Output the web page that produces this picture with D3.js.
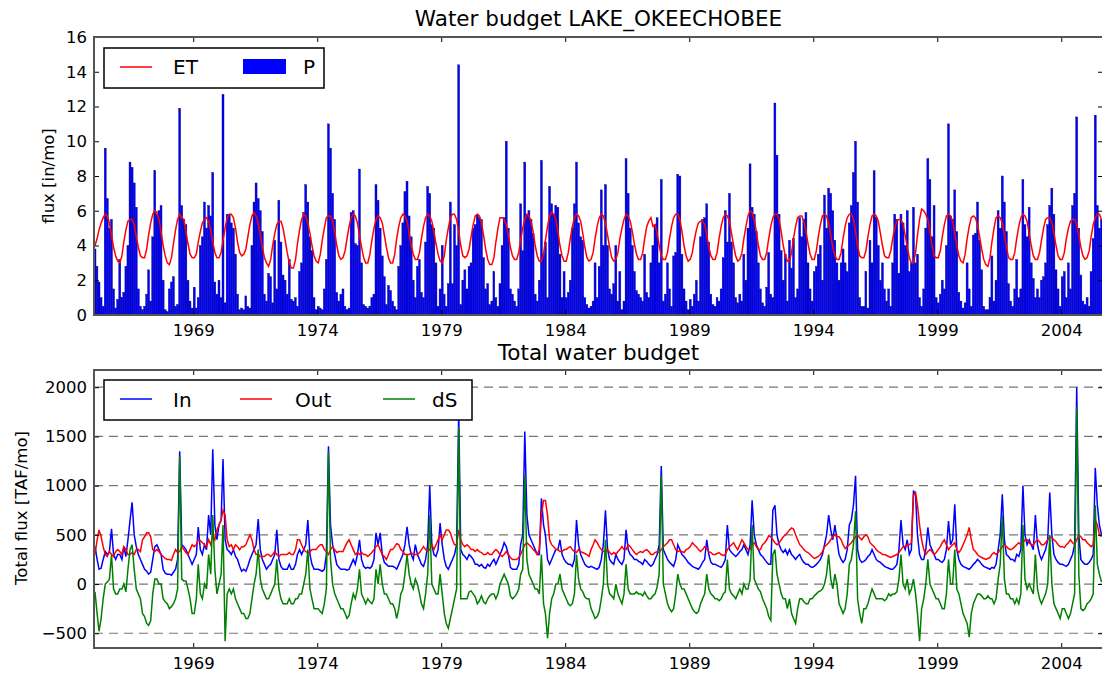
<!DOCTYPE html>
<html>
<head>
<meta charset="utf-8">
<script src="https://cdn.jsdelivr.net/npm/d3@7"></script>
<style>
body { margin: 0; background: #fff; }
text { font-family: "DejaVu Sans", sans-serif; }
</style>
</head>
<body>
<div id="chart"></div>
<script>
// monthly series, first value = Jan 1965, one row per year
var startYear = 1965;

var precip = [
3.8,2.8,1.9,1.0,0.5,9.6,6.7,5.0,5.5,1.5,0.4,0.9,
3.2,1.0,1.3,2.8,4.0,8.8,8.5,7.6,6.2,1.5,0.5,0.3,
0.5,1.2,2.6,0.8,4.5,8.3,5.8,6.0,6.3,2.0,0.3,0.2,
1.5,1.9,2.2,0.5,0.6,11.9,6.3,5.5,5.2,2.0,0.8,0.4,
1.6,0.4,1.0,4.0,4.5,6.5,5.0,6.3,5.7,8.2,1.9,1.2,
2.0,1.0,12.7,0.7,5.8,5.8,5.3,5.0,3.5,1.2,0.3,0.4,
0.3,1.1,0.5,0.4,4.0,6.5,7.6,6.7,6.0,4.8,1.2,0.8,
2.4,2.2,0.7,4.3,1.5,6.6,4.2,2.3,2.0,1.2,3.2,0.9,
0.8,1.0,0.5,2.5,3.0,5.9,7.5,6.5,4.5,3.7,1.0,0.3,
0.5,0.4,0.3,1.5,3.2,11.0,9.6,7.0,5.5,1.3,0.8,1.2,
1.5,0.5,0.3,0.4,5.9,6.0,4.1,4.0,8.4,3.0,0.6,0.5,
0.4,0.5,1.0,1.2,7.5,6.6,5.0,3.4,2.2,0.6,1.7,1.4,
0.8,0.5,0.3,2.8,4.0,5.3,7.1,7.7,5.7,4.5,2.0,1.0,
2.8,3.2,1.3,1.0,4.2,7.4,7.0,5.2,5.0,3.0,0.5,1.5,
4.0,1.2,0.5,1.8,6.5,1.8,5.2,4.0,14.4,0.6,2.0,2.6,
1.5,2.8,3.0,5.0,5.2,5.8,5.6,5.5,3.3,1.5,1.8,0.6,
0.8,2.5,1.0,0.5,1.8,4.0,5.6,10.0,5.0,1.5,1.2,0.8,
0.5,1.5,6.4,3.7,8.8,5.8,6.0,5.5,4.7,1.2,0.8,2.0,
8.9,3.5,4.2,1.0,7.4,6.4,5.8,6.3,6.2,3.5,1.0,2.5,
1.0,1.3,2.0,5.0,6.4,8.8,5.3,4.5,4.3,1.0,0.6,0.4,
0.5,0.8,3.0,1.0,2.8,7.2,4.0,7.5,4.0,1.5,1.2,1.8,
4.0,0.8,2.5,0.3,0.8,9.0,7.0,5.0,4.0,2.5,1.4,1.2,
1.0,0.8,3.5,1.3,1.0,3.0,4.0,5.2,5.6,3.0,7.8,0.8,
1.2,3.0,1.5,0.5,3.4,3.6,8.1,8.0,3.5,1.5,0.8,0.3,
0.9,0.5,1.2,2.0,0.8,4.5,5.5,5.6,6.4,4.2,1.2,0.6,
0.5,1.0,0.8,1.5,3.3,6.0,4.2,7.0,4.2,3.0,1.0,0.7,
1.2,0.8,3.5,2.0,5.0,8.7,6.2,5.8,4.8,3.0,1.5,0.7,
0.5,1.6,3.6,1.2,1.0,12.2,9.2,5.8,3.7,2.0,3.5,0.8,
4.3,2.7,4.4,1.0,1.5,5.6,4.5,5.5,5.9,3.0,1.5,0.8,
2.5,2.8,3.5,4.0,2.0,6.9,5.0,7.3,7.0,6.0,4.3,3.0,
2.0,3.0,3.8,3.0,2.5,5.3,6.3,8.2,10.0,6.5,1.0,0.5,
0.5,2.5,0.4,4.3,3.0,8.3,5.6,4.0,2.0,3.0,1.5,0.8,
1.5,0.5,3.0,5.8,5.5,2.4,5.8,5.3,4.0,6.0,2.5,3.0,
6.2,3.0,3.5,1.0,0.5,1.5,5.0,9.0,7.8,4.5,6.3,1.0,
0.7,1.2,2.0,1.5,4.0,11.0,5.7,5.5,7.2,4.8,1.3,0.8,
0.4,0.7,3.0,1.5,0.5,4.6,4.7,6.5,4.3,2.6,0.5,0.3,
0.3,1.0,3.4,0.8,2.0,6.0,5.0,8.0,6.5,4.8,1.8,0.8,
0.5,1.5,3.2,1.0,1.5,7.8,5.2,4.5,6.2,3.0,2.1,1.0,
1.5,1.0,2.0,2.2,3.0,5.2,6.3,7.3,5.8,2.6,1.5,0.5,
2.2,2.5,1.0,3.0,1.5,6.3,7.0,11.4,5.0,2.3,0.8,0.6,
1.0,0.5,2.5,4.4,11.5,6.3,5.0,5.5
];

var et = [
4.0,4.4,4.9,5.3,5.6,5.8,5.7,5.3,4.6,3.9,3.4,3.1,
3.0,3.4,4.2,4.9,5.4,5.5,5.5,5.2,4.5,3.9,3.4,3.3,
3.3,3.8,4.6,5.3,5.8,6.0,5.9,5.5,4.8,4.0,3.4,3.0,
2.9,3.3,4.1,4.9,5.5,5.8,5.6,5.5,4.8,4.1,3.5,3.3,
3.3,3.5,4.2,4.8,5.3,5.5,5.6,5.4,4.9,4.2,3.6,3.3,
3.3,3.6,4.3,5.0,5.6,5.8,5.8,5.6,5.0,4.2,3.6,3.4,
3.5,3.8,4.5,5.2,5.7,5.9,5.7,5.3,4.6,3.9,3.3,3.0,
2.8,3.2,4.0,4.7,5.2,5.4,5.4,5.0,4.3,3.6,3.0,2.7,
2.7,3.2,4.1,4.9,5.5,5.8,5.7,5.3,4.7,4.0,3.4,3.1,
3.0,3.5,4.3,5.0,5.6,5.7,5.7,5.4,4.8,4.0,3.4,3.2,
3.3,3.7,4.4,5.1,5.6,5.8,5.7,5.3,4.6,3.9,3.3,3.0,
3.0,3.5,4.3,5.0,5.5,5.7,5.6,5.3,4.6,3.9,3.3,3.0,
3.0,3.5,4.4,5.1,5.6,5.8,5.7,5.4,4.7,4.0,3.5,3.2,
3.2,3.6,4.4,5.1,5.6,5.8,5.7,5.4,4.8,4.1,3.5,3.1,
3.0,3.4,4.3,5.0,5.6,5.8,5.8,5.5,4.8,4.0,3.4,3.3,
3.4,3.8,4.5,5.2,5.7,5.8,5.7,5.3,4.6,3.8,3.2,2.9,
2.9,3.3,4.2,5.0,5.6,5.6,5.5,5.2,4.6,3.9,3.4,3.2,
3.2,3.6,4.3,5.0,5.5,5.8,5.7,5.4,4.8,4.0,3.4,3.1,
3.1,3.5,4.3,5.1,5.7,5.9,5.8,5.5,4.8,4.0,3.4,3.1,
3.1,3.6,4.4,5.1,5.6,5.8,5.7,5.4,4.7,3.9,3.3,3.1,
3.2,3.6,4.4,5.1,5.6,5.8,5.7,5.3,4.6,3.9,3.3,3.1,
3.2,3.6,4.4,5.0,5.5,5.8,5.7,5.4,4.8,4.1,3.5,3.2,
3.2,3.6,4.4,5.1,5.4,5.6,5.1,5.2,4.7,4.0,3.4,3.2,
3.2,3.6,4.4,5.1,5.6,5.8,5.8,5.5,4.8,4.0,3.4,3.1,
3.2,3.6,4.3,4.9,5.3,5.4,5.4,5.2,4.6,3.9,3.4,3.2,
3.2,3.6,4.4,5.1,5.6,5.8,5.7,5.4,4.7,4.0,3.4,3.1,
3.2,3.6,4.4,5.1,5.7,6.0,5.9,5.5,4.8,4.0,3.4,3.2,
3.2,3.6,4.4,5.1,5.6,5.8,5.8,5.5,4.8,4.0,3.4,3.1,
3.1,3.6,4.4,5.1,5.6,5.7,5.7,5.4,4.8,4.1,3.5,3.2,
3.2,3.7,4.5,5.2,5.7,5.8,5.7,5.3,4.6,3.9,3.4,3.2,
3.2,3.6,4.4,5.1,5.6,5.8,5.8,5.5,4.8,4.0,3.4,3.3,
3.3,3.7,4.5,5.2,5.7,5.8,5.7,5.4,4.7,4.0,3.4,3.3,
3.3,3.7,4.4,5.0,5.4,5.5,5.5,5.2,4.6,3.9,3.3,3.0,
3.0,3.6,4.6,5.5,6.1,6.0,5.8,5.5,4.8,4.0,3.4,3.3,
3.3,3.7,4.5,5.2,5.7,5.8,5.7,5.4,4.7,4.0,3.4,3.1,
3.0,3.5,4.4,5.1,5.6,5.7,5.6,5.2,4.5,3.8,3.2,2.9,
2.8,3.3,4.2,5.0,5.6,5.7,5.6,5.3,4.6,3.9,3.3,3.2,
3.2,3.6,4.4,5.1,5.6,5.8,5.7,5.4,4.7,4.0,3.4,3.2,
3.2,3.6,4.3,5.0,5.5,5.6,5.6,5.3,4.7,4.0,3.4,3.2,
3.2,3.6,4.4,5.0,5.4,5.5,5.5,5.2,4.6,3.9,3.4,3.2,
3.3,3.7,4.5,5.2,5.6,5.8,5.8,5.5
];

var inflow = [
380,250,150,160,250,330,300,330,560,300,250,300,
300,250,380,280,450,650,830,500,380,300,250,200,
150,130,100,120,250,380,400,350,300,150,110,100,
100,90,120,150,250,1350,400,380,350,300,250,200,
250,300,580,350,300,400,350,700,500,1370,600,450,
600,650,1270,450,350,330,300,350,280,250,180,130,
150,130,180,250,300,350,400,660,350,250,200,150,
180,200,250,300,550,250,180,150,150,150,200,150,
150,200,300,350,300,350,400,650,300,200,150,150,
150,140,130,150,300,1400,600,400,300,200,170,150,
150,150,140,150,200,250,200,300,450,250,180,160,
170,160,180,250,520,400,520,300,220,200,180,180,
180,170,150,200,250,300,400,580,400,300,250,400,
300,250,200,180,250,400,1000,400,300,280,350,620,
400,250,180,150,200,250,300,400,1750,350,300,280,
250,300,280,250,200,200,180,200,170,160,200,180,
220,250,200,250,300,350,420,380,300,170,150,150,
150,200,400,500,1550,700,500,450,400,350,300,300,
870,600,500,250,200,250,300,350,350,450,300,250,
220,200,200,180,250,650,400,300,250,200,180,170,
180,170,160,150,170,250,400,750,350,250,220,200,
300,250,220,200,250,550,350,300,280,250,250,230,
220,200,250,230,200,180,200,250,300,400,1200,350,
300,250,220,200,180,250,400,350,300,280,250,220,
200,180,170,160,150,180,220,250,450,300,220,200,
200,190,180,170,200,250,600,350,320,300,280,300,
330,350,400,350,300,400,850,500,400,350,300,280,
250,220,200,200,750,800,500,400,350,320,350,300,
350,300,280,250,280,300,250,220,200,200,180,170,
180,200,220,250,300,400,500,700,550,450,600,450,
300,250,220,250,350,600,650,800,1100,350,250,220,
230,250,280,300,350,300,250,230,220,200,180,170,
160,150,150,170,200,350,650,400,350,450,300,350,
950,900,500,300,250,250,350,575,400,350,300,250,
250,230,220,250,350,640,400,450,810,350,250,200,
180,170,160,150,170,200,220,250,230,200,180,170,
160,150,170,160,200,350,500,913,450,300,280,250,
250,230,300,280,350,1000,500,400,450,400,350,700,
400,300,250,300,350,450,930,500,300,250,220,200,
200,190,180,200,250,300,400,2000,500,250,220,200,
200,220,250,300,1180,800,600,500
];

var outflow = [
300,450,550,480,380,300,280,330,300,280,330,350,
330,300,380,350,300,300,320,300,350,350,330,450,
480,520,520,480,350,330,350,330,300,280,260,250,
250,240,300,350,320,330,380,350,320,300,350,400,
380,400,450,440,420,400,380,450,400,500,450,550,
600,650,750,700,450,380,400,350,400,380,350,380,
380,400,450,500,450,350,300,300,280,280,280,300,
300,280,300,330,300,280,300,300,300,300,320,300,
300,350,450,450,400,350,330,320,330,350,350,350,
380,400,400,350,330,300,350,380,350,320,330,330,
330,380,420,450,400,350,300,320,300,320,300,300,
280,300,320,350,380,400,350,300,280,250,300,350,
350,380,410,400,350,330,300,300,300,320,300,300,
300,320,350,380,350,330,350,400,350,400,450,500,
450,500,550,550,520,450,400,400,550,450,400,380,
400,380,350,350,330,350,330,320,300,300,320,300,
300,330,350,330,300,280,300,330,300,270,250,250,
250,270,300,350,400,420,400,380,350,330,300,350,
700,850,850,700,450,400,380,350,350,330,330,350,
350,370,380,350,330,320,350,330,320,310,300,280,
350,400,450,420,380,350,330,330,350,320,300,320,
300,330,350,380,350,350,400,380,350,320,300,320,
330,320,340,350,330,300,300,320,330,320,350,380,
400,420,450,450,400,350,330,340,330,320,350,360,
380,420,400,380,350,330,350,380,360,330,320,300,
300,310,320,300,290,300,350,380,400,420,380,350,
400,450,420,380,350,350,400,420,380,350,350,400,
420,450,490,480,450,420,400,420,450,480,500,520,
550,570,560,500,450,400,380,350,330,320,300,280,
260,270,280,300,330,380,400,420,450,480,500,480,
480,450,400,360,380,400,420,450,480,500,470,450,
480,500,480,420,400,380,350,330,320,300,300,290,
280,270,280,290,300,320,350,380,380,400,400,420,
900,930,800,600,450,350,300,330,350,330,300,320,
350,380,420,450,400,350,380,400,420,350,320,350,
400,450,500,575,450,350,330,300,280,270,260,250,
260,270,300,320,300,320,350,380,400,380,360,350,
360,380,400,420,400,420,450,450,420,400,400,430,
450,430,400,400,420,450,480,470,450,430,400,380,
380,370,400,420,450,420,400,450,500,480,450,450,
420,400,380,400,650,600,500,480
];

var dStor = [
-80,-300,-480,-350,-150,0,20,50,300,-50,-100,-100,
-50,-50,0,-80,150,350,400,150,-50,-100,-150,-300,
-330,-400,-420,-370,-100,50,50,0,0,-150,-180,-200,
-250,-230,-200,-150,-50,1300,50,30,30,-50,-150,-300,
-300,-150,200,-100,-150,0,-50,300,100,700,150,-100,
0,100,600,-580,-100,-50,-100,-50,-150,-200,-250,-300,
-300,-350,-350,-300,-150,0,100,350,50,-50,-100,-150,
-150,-100,-50,0,250,-50,-150,-200,-200,-200,-150,-200,
-200,-150,-150,-100,-100,0,100,350,-50,-150,-250,-250,
-250,-280,-300,-200,-50,1350,250,0,-100,-150,-200,-250,
-250,-300,-350,-320,-200,-100,-150,-50,150,-100,-150,-200,
-150,-180,-200,-150,150,0,200,0,-100,-100,-150,-200,
-200,-250,-350,-250,-100,-50,100,300,100,0,-50,50,
0,-100,-200,-250,-100,100,700,0,-50,-100,-100,100,
-100,-300,-400,-450,-350,-250,-150,-50,1600,-150,-150,-150,
-150,-80,-70,-100,-130,-200,-170,-120,-180,-200,-150,-120,
-100,-100,-150,-100,0,50,100,50,0,-120,-150,-130,
-100,-50,100,150,1100,250,100,50,0,-50,-50,-100,
300,-200,-300,-550,-300,-150,-100,0,0,100,-50,-100,
-150,-200,-220,-200,-100,300,50,-50,-80,-130,-150,-150,
-250,-300,-350,-330,-280,-150,0,450,0,-100,-120,-150,
0,-100,-150,-200,-100,200,-50,-100,-100,-100,-80,-100,
-100,-120,-80,-120,-150,-150,-120,-100,-30,100,1100,0,
-100,-200,-250,-280,-250,-100,100,0,-50,-50,-100,-150,
-200,-250,-280,-300,-280,-200,-150,-100,100,-50,-100,-120,
-150,-150,-170,-150,-100,-80,250,-50,-100,-120,-150,-100,
-50,-100,0,-50,-50,50,600,50,0,-50,-80,-150,
-200,-250,-330,-370,300,350,100,0,-100,-150,-150,-250,
-150,-300,-350,-400,-250,-150,-150,-180,-200,-200,-150,-150,
-120,-100,-80,-70,-50,0,100,300,50,-50,100,0,
-200,-250,-300,-250,-100,200,250,400,740,-150,-300,-400,
-250,-250,-200,-120,-50,-100,-150,-150,-150,-150,-170,-150,
-100,-120,-100,-100,-80,50,300,0,-50,50,-100,-50,
50,-100,-300,-580,-250,-150,0,250,0,-50,-100,-150,
-150,-200,-250,-250,-100,250,0,0,350,-50,-100,-200,
-300,-350,-400,-540,-300,-200,-150,-100,-100,-120,-150,-150,
-120,-150,-150,-200,-150,50,200,700,50,-100,-100,-150,
-150,-200,-150,-200,-100,600,50,-50,0,-50,-100,300,
-50,-150,-200,-150,-100,0,500,0,-200,-250,-300,-350,
-250,-250,-300,-350,-300,-200,-100,1800,100,-250,-270,-250,
-200,-180,-150,-100,800,200,100,20
];

var topTicks = [0, 2, 4, 6, 8, 10, 12, 14, 16];
var botTicks = [-500, 0, 500, 1000, 1500, 2000];
var yearTicks = [1969, 1974, 1979, 1984, 1989, 1994, 1999, 2004];

// layout
var width = 1102, height = 673;
var plotLeft = 94, plotRight = 1103;
var topPanel = {top: 37, bottom: 315};
var botPanel = {top: 370, bottom: 648};

var svg = d3.select("#chart").append("svg")
    .attr("width", width)
    .attr("height", height);

var x = d3.scaleTime()
    .domain([new Date(1965, 0, 1), new Date(2005, 8, 7)])
    .range([plotLeft, plotRight]);

var yTop = d3.scaleLinear().domain([0, 16]).range([topPanel.bottom, topPanel.top]);
var yBot = d3.scaleLinear().domain([-650, 2175]).range([botPanel.bottom, botPanel.top]);

function monthStart(i) { return new Date(startYear, i, 1); }
function monthMid(i) { return new Date(startYear, i, 16); }

var defs = svg.append("defs");
[["clipTop", topPanel], ["clipBot", botPanel]].forEach(function(c) {
    defs.append("clipPath").attr("id", c[0]).append("rect")
        .attr("x", plotLeft).attr("y", c[1].top)
        .attr("width", plotRight - plotLeft)
        .attr("height", c[1].bottom - c[1].top);
});

// ---------- top panel ----------
var gTop = svg.append("g").attr("clip-path", "url(#clipTop)");

gTop.selectAll("rect.p")
    .data(precip)
    .enter()
    .append("rect")
    .attr("class", "p")
    .attr("x", function(d, i) { return x(monthStart(i)); })
    .attr("width", function(d, i) { return (x(monthStart(i + 1)) - x(monthStart(i))) * 0.95; })
    .attr("y", function(d) { return yTop(d); })
    .attr("height", function(d) { return yTop(0) - yTop(d); })
    .style("fill", "#0000ff")
    .style("stroke", "#00007a")
    .style("stroke-width", 0.4);

gTop.append("path")
    .datum(et)
    .attr("d", d3.line()
        .x(function(d, i) { return x(monthMid(i)); })
        .y(function(d) { return yTop(d); }))
    .style("fill", "none")
    .style("stroke", "#ff0000")
    .style("stroke-width", 1.5);

// ---------- bottom panel ----------
var gBot = svg.append("g");

gBot.selectAll("line.grid")
    .data(botTicks)
    .enter()
    .append("line")
    .attr("class", "grid")
    .attr("x1", plotLeft).attr("x2", plotRight)
    .attr("y1", function(d) { return yBot(d); })
    .attr("y2", function(d) { return yBot(d); })
    .style("stroke", "#777")
    .style("stroke-width", 1.2)
    .style("stroke-dasharray", "9,6");

var lineBot = d3.line()
    .x(function(d, i) { return x(monthMid(i)); })
    .y(function(d) { return yBot(d); });

var series = [
    {name: "In", values: inflow, color: "#0000ff"},
    {name: "Out", values: outflow, color: "#ff0000"},
    {name: "dS", values: dStor, color: "#008000"}
];

gBot.append("g").attr("clip-path", "url(#clipBot)")
    .selectAll("path")
    .data(series)
    .enter()
    .append("path")
    .attr("d", function(s) { return lineBot(s.values); })
    .style("fill", "none")
    .style("stroke", function(s) { return s.color; })
    .style("stroke-width", 1.5);

// ---------- axes, ticks, frames ----------
var tickDates = yearTicks.map(function(y) { return new Date(y, 0, 1); });

function drawAxes(panel, yScale, ticks) {
    var fmt = d3.timeFormat("%Y");
    var xb = svg.append("g")
        .attr("transform", "translate(0," + panel.bottom + ")")
        .call(d3.axisBottom(x).tickValues(tickDates).tickFormat(fmt)
            .tickSize(-5).tickSizeOuter(0).tickPadding(9));
    var xt = svg.append("g")
        .attr("transform", "translate(0," + panel.top + ")")
        .call(d3.axisTop(x).tickValues(tickDates).tickFormat("")
            .tickSize(-5).tickSizeOuter(0));
    var yl = svg.append("g")
        .attr("transform", "translate(" + plotLeft + ",0)")
        .call(d3.axisLeft(yScale).tickValues(ticks).tickFormat(d3.format("d"))
            .tickSize(-5).tickSizeOuter(0).tickPadding(7));
    var yr = svg.append("g")
        .attr("transform", "translate(" + plotRight + ",0)")
        .call(d3.axisRight(yScale).tickValues(ticks).tickFormat("")
            .tickSize(-5).tickSizeOuter(0));
    [xb, xt, yl, yr].forEach(function(g) {
        g.select(".domain").remove();
        g.selectAll("text")
            .style("font-family", "'DejaVu Sans', sans-serif")
            .style("font-size", "16.5px")
            .style("fill", "#000");
        g.selectAll(".tick line").style("stroke", "#000");
    });
    svg.append("rect")
        .attr("x", plotLeft).attr("y", panel.top)
        .attr("width", plotRight - plotLeft)
        .attr("height", panel.bottom - panel.top)
        .style("fill", "none")
        .style("stroke", "#555")
        .style("stroke-width", 2);
}

drawAxes(topPanel, yTop, topTicks);
drawAxes(botPanel, yBot, botTicks);

// titles and axis labels
var midX = (plotLeft + plotRight) / 2;
svg.append("text").attr("x", midX).attr("y", 26)
    .attr("text-anchor", "middle").style("font-size", "21.5px")
    .text("Water budget LAKE_OKEECHOBEE");
svg.append("text").attr("x", midX).attr("y", 360)
    .attr("text-anchor", "middle").style("font-size", "21.5px")
    .text("Total water budget");
svg.append("text")
    .attr("transform", "translate(54,176) rotate(-90)")
    .attr("text-anchor", "middle").style("font-size", "16.5px")
    .text("flux [in/mo]");
svg.append("text")
    .attr("transform", "translate(27,508) rotate(-90)")
    .attr("text-anchor", "middle").style("font-size", "16.5px")
    .text("Total flux [TAF/mo]");

// ---------- legends ----------
function legendBox(x0, y0, w, h) {
    svg.append("rect")
        .attr("x", x0).attr("y", y0).attr("width", w).attr("height", h)
        .style("fill", "#fff")
        .style("stroke", "#000")
        .style("stroke-width", 1.5);
}

legendBox(104, 48, 220, 40);
svg.append("line").attr("x1", 120).attr("x2", 152).attr("y1", 67).attr("y2", 67)
    .style("stroke", "#ff0000").style("stroke-width", 1.5);
svg.append("text").attr("x", 173).attr("y", 74).style("font-size", "20px").text("ET");
svg.append("rect").attr("x", 243).attr("y", 59).attr("width", 43).attr("height", 15)
    .style("fill", "#0000ff");
svg.append("text").attr("x", 303).attr("y", 74).style("font-size", "20px").text("P");

legendBox(104, 380, 368, 40);
var legItems = [
    {x: 120, tx: 173},
    {x: 240, tx: 295},
    {x: 383, tx: 432}
];
series.forEach(function(s, i) {
    svg.append("line")
        .attr("x1", legItems[i].x).attr("x2", legItems[i].x + 32)
        .attr("y1", 399).attr("y2", 399)
        .style("stroke", s.color).style("stroke-width", 1.5);
    svg.append("text")
        .attr("x", legItems[i].tx).attr("y", 407)
        .style("font-size", "20px")
        .text(s.name);
});
</script>
</body>
</html>
